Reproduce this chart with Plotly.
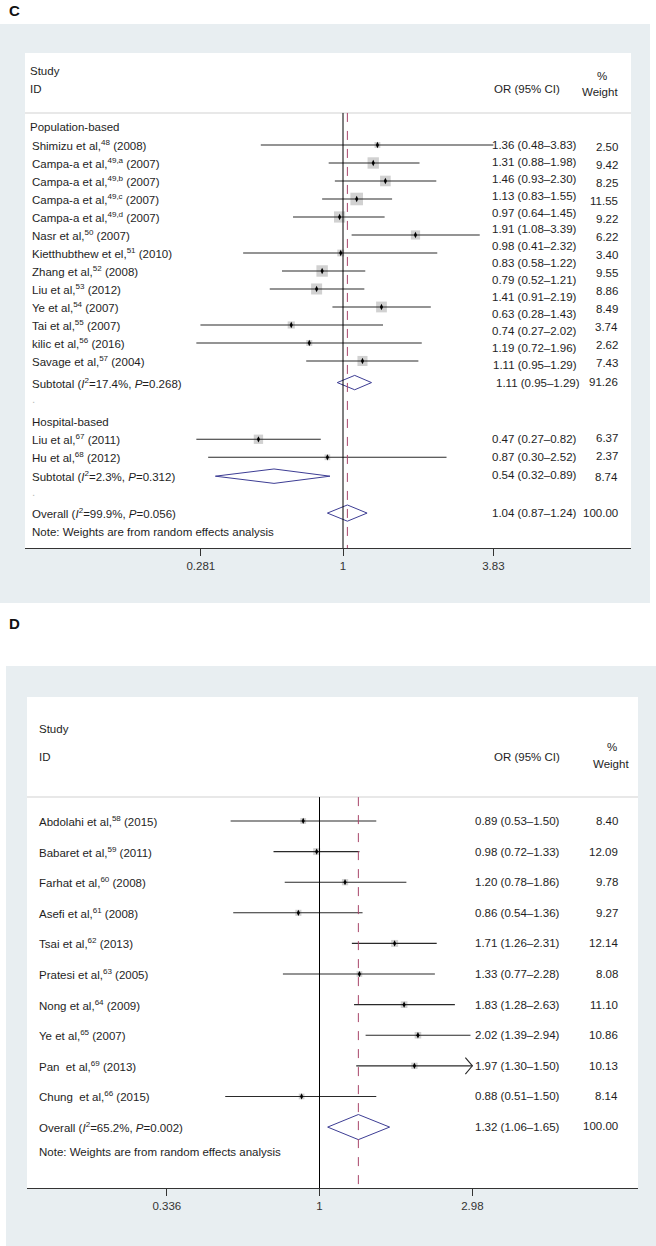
import numpy as np
import plotly.graph_objects as go

W, H = 656, 1246
FONT = "Liberation Sans, Arial, sans-serif"
TXT = "#1e1e1e"
LINE = "#2a2a2a"
SQ = "#bdbdbd"
NAVY = "#3d3d94"
RED = "#a8466a"
BG = "#e8eef1"

# ---------------- panel C data ----------------
c_pop_names = [
    "Shimizu et al,<sup>48</sup> (2008)",
    "Campa-a et al,<sup>49,a</sup> (2007)",
    "Campa-a et al,<sup>49,b</sup> (2007)",
    "Campa-a et al,<sup>49,c</sup> (2007)",
    "Campa-a et al,<sup>49,d</sup> (2007)",
    "Nasr et al,<sup>50</sup> (2007)",
    "Kietthubthew et el,<sup>51</sup> (2010)",
    "Zhang et al,<sup>52</sup> (2008)",
    "Liu et al,<sup>53</sup> (2012)",
    "Ye et al,<sup>54</sup> (2007)",
    "Tai et al,<sup>55</sup> (2007)",
    "kilic et al,<sup>56</sup> (2016)",
    "Savage et al,<sup>57</sup> (2004)",
]
c_pop_or = [1.36, 1.31, 1.46, 1.13, 0.97, 1.91, 0.98, 0.83, 0.79, 1.41, 0.63, 0.74, 1.19]
c_pop_lo = [0.48, 0.88, 0.93, 0.83, 0.64, 1.08, 0.41, 0.58, 0.52, 0.91, 0.28, 0.27, 0.72]
c_pop_hi = [3.83, 1.98, 2.30, 1.55, 1.45, 3.39, 2.32, 1.22, 1.21, 2.19, 1.43, 2.02, 1.96]
c_pop_w = [2.50, 9.42, 8.25, 11.55, 9.22, 6.22, 3.40, 9.55, 8.86, 8.49, 3.74, 2.62, 7.43]
c_pop_sub = [1.11, 0.95, 1.29, 91.26]
c_pop_sub_label = "Subtotal (<i>I</i><sup>2</sup>=17.4%, <i>P</i>=0.268)"

c_hos_names = ["Liu et al,<sup>67</sup> (2011)", "Hu et al,<sup>68</sup> (2012)"]
c_hos_or = [0.47, 0.87]
c_hos_lo = [0.27, 0.30]
c_hos_hi = [0.82, 2.52]
c_hos_w = [6.37, 2.37]
c_hos_sub = [0.54, 0.32, 0.89, 8.74]
c_hos_sub_label = "Subtotal (<i>I</i><sup>2</sup>=2.3%, <i>P</i>=0.312)"

c_overall = [1.04, 0.87, 1.24, 100.00]
c_overall_label = "Overall (<i>I</i><sup>2</sup>=99.9%, <i>P</i>=0.056)"
c_ticks = [0.281, 1, 3.83]
c_tick_text = ["0.281", "1", "3.83"]

# ---------------- panel D data ----------------
d_names = [
    "Abdolahi et al,<sup>58</sup> (2015)",
    "Babaret et al,<sup>59</sup> (2011)",
    "Farhat et al,<sup>60</sup> (2008)",
    "Asefi et al,<sup>61</sup> (2008)",
    "Tsai et al,<sup>62</sup> (2013)",
    "Pratesi et al,<sup>63</sup> (2005)",
    "Nong et al,<sup>64</sup> (2009)",
    "Ye et al,<sup>65</sup> (2007)",
    "Pan\u00a0 et al,<sup>69</sup> (2013)",
    "Chung\u00a0 et al,<sup>66</sup> (2015)",
]
d_or = [0.89, 0.98, 1.20, 0.86, 1.71, 1.33, 1.83, 2.02, 1.97, 0.88]
d_lo = [0.53, 0.72, 0.78, 0.54, 1.26, 0.77, 1.28, 1.39, 1.30, 0.51]
d_hi = [1.50, 1.33, 1.86, 1.36, 2.31, 2.28, 2.63, 2.94, 1.50, 1.50]
d_w = [8.40, 12.09, 9.78, 9.27, 12.14, 8.08, 11.10, 10.86, 10.13, 8.14]
d_clipped = [False, False, False, False, False, False, False, False, True, False]
d_overall = [1.32, 1.06, 1.65, 100.00]
d_overall_label = "Overall (<i>I</i><sup>2</sup>=65.2%, <i>P</i>=0.002)"
d_ticks = [0.336, 1, 2.98]
d_tick_text = ["0.336", "1", "2.98"]

NOTE = "Note: Weights are from random effects analysis"


def fmt_ci(o, l, h):
    return f"{o:.2f} ({l:.2f}\u2013{h:.2f})"


def py(px):
    return 1 - px / H


fig = go.Figure()


def label(text, x_px, y, yref, anchor="left", size=11.5, color=TXT, bold=False):
    if bold:
        text = f"<b>{text}</b>"
    fig.add_annotation(
        text=text, x=x_px / W, xref="paper", y=y, yref=yref,
        xanchor=anchor, yanchor="middle", showarrow=False, borderpad=0,
        font=dict(family=FONT, size=size, color=color),
    )


def add_studies(xa, ya, ys, ors, los, his, ws, sq, clip_at=None, clipped=None):
    fig.add_trace(go.Scatter(
        x=ors, y=ys, mode="markers", xaxis=xa, yaxis=ya, hoverinfo="skip",
        marker=dict(symbol="square", size=[sq * np.sqrt(w) for w in ws], color=SQ, line_width=0),
    ))
    lx, ly = [], []
    for i, (y, l, h) in enumerate(zip(ys, los, his)):
        if clipped is not None and clipped[i]:
            back = clip_at / np.exp(7 / 140)
            lx += [l, clip_at, None, back, clip_at, back, None]
            ly += [y, y, None, y - 0.27, y, y + 0.27, None]
        else:
            lx += [l, h, None]
            ly += [y, y, None]
    fig.add_trace(go.Scatter(
        x=lx, y=ly, mode="lines", xaxis=xa, yaxis=ya, hoverinfo="skip",
        line=dict(color=LINE, width=1.1),
    ))
    fig.add_trace(go.Scatter(
        x=ors, y=ys, mode="markers", xaxis=xa, yaxis=ya, hoverinfo="skip",
        marker=dict(symbol="diamond-tall", size=4.5, color="black", line_width=0),
    ))


def add_diamond(xa, ya, y, o, l, h, half):
    fig.add_trace(go.Scatter(
        x=[l, o, h, o, l], y=[y, y - half, y, y + half, y], mode="lines",
        xaxis=xa, yaxis=ya, hoverinfo="skip", line=dict(color=NAVY, width=1),
    ))


def box(x0, y0, x1, y1, color):
    fig.add_shape(type="rect", xref="paper", yref="paper", layer="below",
                  x0=x0 / W, x1=x1 / W, y0=py(y1), y1=py(y0),
                  fillcolor=color, line_width=0)


def hline(x0, x1, y, color):
    fig.add_shape(type="line", xref="paper", yref="paper", x0=x0 / W, x1=x1 / W,
                  y0=py(y), y1=py(y), line=dict(color=color, width=1.2))


# ---------------- backgrounds ----------------
box(0, 24, 650, 603, BG)
box(25, 53, 631, 548, "white")
box(6, 666, 656, 1246, BG)
box(27, 697, 638, 1188, "white")
hline(25, 631, 113, "#d2d2d2")
hline(27, 638, 797, "#d2d2d2")

label("C", 8, py(11), "paper", size=15, bold=True, color="#111")
label("D", 8, py(623), "paper", size=15, bold=True, color="#111")

# ---------------- panel C ----------------
c_rows = np.arange(1, len(c_pop_names) + 1)
c_sub1 = c_rows[-1] + 1.2
c_dot1 = c_sub1 + 1.1
c_hos_head = c_dot1 + 1.1
c_hos_rows = c_hos_head + 0.95 + np.arange(len(c_hos_names))
c_sub2 = c_hos_rows[-1] + 1.05
c_dot2 = c_sub2 + 1.1
c_all = c_dot2 + 0.95
c_note = c_all + 1.05
c_sep = -0.78

label("Study", 29, py(71), "paper")
label("ID", 29, py(89), "paper")
label("OR (95% CI)", 561, py(89), "paper", anchor="right")
label("%", 602, py(76), "paper", anchor="center")
label("Weight", 619, py(92), "paper", anchor="right")

label("Population-based", 29, 0, "y")
for y, n in zip(c_rows, c_pop_names):
    label(n, 31, y, "y")
label(c_pop_sub_label, 31, c_sub1, "y")
label(".", 31, c_dot1 - 0.2, "y", color="#bbbbbb")
label("Hospital-based", 31, c_hos_head, "y")
for y, n in zip(c_hos_rows, c_hos_names):
    label(n, 31, y, "y")
label(c_hos_sub_label, 31, c_sub2, "y")
label(".", 31, c_dot2 - 0.2, "y", color="#bbbbbb")
label(c_overall_label, 31, c_all, "y")
label(NOTE, 31, c_note, "y")

# right-hand columns (the CI column drifts upward in the source figure)
c_ci_strings = [fmt_ci(o, l, h) for o, l, h in zip(c_pop_or, c_pop_lo, c_pop_hi)]
c_ci_strings.append(fmt_ci(*c_pop_sub[:3]))
for y, s in zip(np.linspace(c_rows[0], c_rows[-1] + 0.2, len(c_ci_strings)), c_ci_strings):
    label(s, 578, y, "y", anchor="right")
for y, w in zip(c_rows, c_pop_w):
    label(f"{w:.2f}", 619, y + 0.1, "y", anchor="right")
label(fmt_ci(*c_pop_sub[:3]), 581, c_sub1, "y", anchor="right")
label(f"{c_pop_sub[3]:.2f}", 619, c_sub1 - 0.05, "y", anchor="right")
for y, o, l, h, w in zip(c_hos_rows, c_hos_or, c_hos_lo, c_hos_hi, c_hos_w):
    label(fmt_ci(o, l, h), 578, y, "y", anchor="right")
    label(f"{w:.2f}", 619, y - 0.05, "y", anchor="right")
label(fmt_ci(*c_hos_sub[:3]), 578, c_sub2 - 0.05, "y", anchor="right")
label(f"{c_hos_sub[3]:.2f}", 619, c_sub2 + 0.05, "y", anchor="right")
label(fmt_ci(*c_overall[:3]), 578, c_all, "y", anchor="right")
label(f"{c_overall[3]:.2f}", 619, c_all, "y", anchor="right")

# reference lines
for xv, col, dash in [(1, "black", "solid"), (c_overall[0], RED, "dash")]:
    fig.add_shape(type="line", xref="x", yref="y", x0=xv, x1=xv, y0=c_sep, y1=23.39,
                  line=dict(color=col, width=1, dash=dash))

add_studies("x", "y", c_rows, c_pop_or, c_pop_lo, c_pop_hi, c_pop_w, 3.7)
add_studies("x", "y", c_hos_rows, c_hos_or, c_hos_lo, c_hos_hi, c_hos_w, 3.7)
add_diamond("x", "y", c_sub1, c_pop_sub[0], c_pop_sub[1], c_pop_sub[2], 0.4)
add_diamond("x", "y", c_sub2, c_hos_sub[0], c_hos_sub[1], c_hos_sub[2], 0.4)
add_diamond("x", "y", c_all, c_overall[0], c_overall[1], c_overall[2], 0.45)

# ---------------- panel D ----------------
d_rows = np.arange(len(d_names))
d_all = d_rows[-1] + 1.0
d_note = d_all + 0.82
d_sep = -0.78

label("Study", 38, py(729), "paper")
label("ID", 38, py(757), "paper")
label("OR (95% CI)", 561, py(757), "paper", anchor="right")
label("%", 612, py(747), "paper", anchor="center")
label("Weight", 630, py(764), "paper", anchor="right")

for y, n in zip(d_rows, d_names):
    label(n, 38, y, "y2")
label(d_overall_label, 38, d_all, "y2")
label(NOTE, 38, d_note, "y2")
for y, o, l, h, w in zip(d_rows, d_or, d_lo, d_hi, d_w):
    label(fmt_ci(o, l, h), 561, y, "y2", anchor="right")
    label(f"{w:.2f}", 619, y, "y2", anchor="right")
label(fmt_ci(*d_overall[:3]), 561, d_all, "y2", anchor="right")
label(f"{d_overall[3]:.2f}", 619, d_all - 0.05, "y2", anchor="right")

for xv, col, dash in [(1, "black", "solid"), (d_overall[0], RED, "dash")]:
    fig.add_shape(type="line", xref="x2", yref="y2", x0=xv, x1=xv, y0=d_sep, y1=11.99,
                  line=dict(color=col, width=1, dash=dash))

add_studies("x2", "y2", d_rows, d_or, d_lo, d_hi, d_w, 2.0,
            clip_at=d_ticks[-1], clipped=d_clipped)
add_diamond("x2", "y2", d_all, d_overall[0], d_overall[1], d_overall[2], 0.41)


# ---------------- axes ----------------
def log_range(px_lo, px_hi, px_one, k):
    return [(px_lo - px_one) / k / np.log(10), (px_hi - px_one) / k / np.log(10)]


axis_common = dict(
    type="log", showgrid=False, zeroline=False, showline=True, linecolor="#333",
    linewidth=1.2, ticks="outside", ticklen=7, tickcolor="#333", tickwidth=1,
    tickfont=dict(family=FONT, size=11.5, color="#333"), fixedrange=True,
)

fig.update_layout(
    width=W, height=H, margin=dict(l=0, r=0, t=0, b=0),
    paper_bgcolor="white", plot_bgcolor="rgba(0,0,0,0)", showlegend=False,
    xaxis=dict(domain=[25 / W, 631 / W], range=log_range(25, 631, 343, 112),
               anchor="y", tickvals=c_ticks, ticktext=c_tick_text, **axis_common),
    yaxis=dict(domain=[py(548), py(53)], range=[23.39, -4.11], visible=False, anchor="x"),
    xaxis2=dict(domain=[27 / W, 638 / W], range=log_range(27, 638, 319.5, 140),
                anchor="y2", tickvals=d_ticks, ticktext=d_tick_text, **axis_common),
    yaxis2=dict(domain=[py(1188), py(697)], range=[11.99, -4.05], visible=False, anchor="x2"),
)

# the page's default body margin would shift the figure by 8px
fig.write_html("out.html", config={"displayModeBar": False},
               post_script="document.body.style.margin='0';")
